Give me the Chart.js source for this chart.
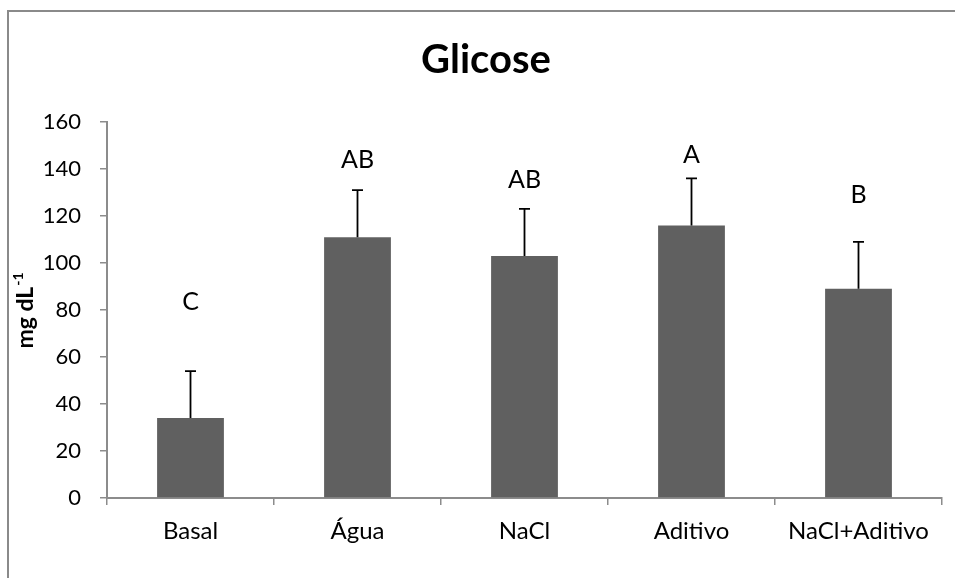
<!DOCTYPE html>
<html><head><meta charset="utf-8">
<script src="https://cdn.jsdelivr.net/npm/chart.js@4/dist/chart.umd.min.js"></script>
<style>html,body{margin:0;padding:0;background:#fff}#wrap{width:955px;height:578px;position:relative}</style>
</head><body><div id="wrap"><canvas id="c" width="955" height="578"></canvas></div>
<script>
const categories = ['Basal', 'Água', 'NaCl', 'Aditivo', 'NaCl+Aditivo'];
const means = [34, 111, 103, 116, 89];
const errors = [20, 20, 20, 20, 20];
const letters = ['C', 'AB', 'AB', 'A', 'B'];
const letterLevels = [83.5, 144, 135.5, 146, 129];
const yTicks = [0, 20, 40, 60, 80, 100, 120, 140, 160];
const chartTitle = 'Glicose';
const yTitle = 'mg dL';
const yTitleSup = '-1';

const FONT = 'Lato, "Open Sans", sans-serif';
const AXIS = '#8c8c8c';

const decor = {
  id: 'decor',
  beforeDraw(chart) {
    const ctx = chart.ctx;
    ctx.save();
    ctx.fillStyle = '#fff';
    ctx.fillRect(0, 0, chart.width, chart.height);
    ctx.strokeStyle = '#8a8a8a';
    ctx.lineWidth = 2;
    ctx.beginPath();
    ctx.moveTo(8, 578); ctx.lineTo(8, 11); ctx.lineTo(955, 11);
    ctx.stroke();
    ctx.restore();
  },
  afterDatasetsDraw(chart) {
    const ctx = chart.ctx;
    const ys = chart.scales.y;
    const meta = chart.getDatasetMeta(0);
    ctx.save();
    ctx.strokeStyle = '#000';
    ctx.lineWidth = 1.8;
    meta.data.forEach((bar, i) => {
      const x = bar.x;
      const y0 = ys.getPixelForValue(means[i]);
      const y1 = ys.getPixelForValue(means[i] + errors[i]);
      ctx.beginPath();
      ctx.moveTo(x, y0); ctx.lineTo(x, y1);
      ctx.moveTo(x - 5.5, y1); ctx.lineTo(x + 5.5, y1);
      ctx.stroke();
      ctx.fillStyle = '#000';
      ctx.font = '25px ' + FONT;
      ctx.textAlign = 'center';
      ctx.textBaseline = 'middle';
      ctx.fillText(letters[i], x, ys.getPixelForValue(letterLevels[i]));
    });
    // title
    ctx.font = 'bold 40px ' + FONT;
    ctx.textAlign = 'center';
    ctx.textBaseline = 'middle';
    ctx.fillText(chartTitle, 486, 60);
    // y title
    ctx.translate(33, 311);
    ctx.rotate(-Math.PI / 2);
    ctx.font = 'bold 23px ' + FONT;
    const w1 = ctx.measureText(yTitle).width;
    ctx.font = 'bold 14px ' + FONT;
    const w2 = ctx.measureText(yTitleSup).width;
    const start = -(w1 + w2) / 2;
    ctx.textAlign = 'left';
    ctx.textBaseline = 'alphabetic';
    ctx.font = 'bold 23px ' + FONT;
    ctx.fillText(yTitle, start, 0);
    ctx.font = 'bold 14px ' + FONT;
    ctx.fillText(yTitleSup, start + w1 + 1, -10);
    ctx.restore();
  }
};

new Chart(document.getElementById('c'), {
  type: 'bar',
  data: {
    labels: categories,
    datasets: [{
      data: means,
      backgroundColor: '#606060',
      borderWidth: 0,
      barPercentage: 0.4,
      categoryPercentage: 1
    }]
  },
  options: {
    responsive: false,
    animation: false,
    devicePixelRatio: 1,
    layout: { padding: { top: 122, right: 13, left: 0, bottom: 0 } },
    plugins: { legend: { display: false }, title: { display: false }, tooltip: { enabled: false } },
    scales: {
      x: {
        grid: { offset: true, drawOnChartArea: false, drawTicks: true, tickLength: 7, color: AXIS, lineWidth: 1.5 },
        border: { color: AXIS, width: 2 },
        ticks: { color: '#000', font: { family: FONT, size: 24 }, padding: 12, maxRotation: 0 },
        afterFit(s) { s.height = 80; }
      },
      y: {
        min: 0, max: 160,
        afterBuildTicks(s) { s.ticks = yTicks.map(v => ({ value: v })); },
        grid: { drawOnChartArea: false, drawTicks: true, tickLength: 7, color: AXIS, lineWidth: 1.5 },
        border: { color: AXIS, width: 2 },
        ticks: { color: '#000', font: { family: FONT, size: 22 }, padding: 19 },
        afterFit(s) { s.width = 107; }
      }
    }
  },
  plugins: [decor]
});
</script></body></html>
